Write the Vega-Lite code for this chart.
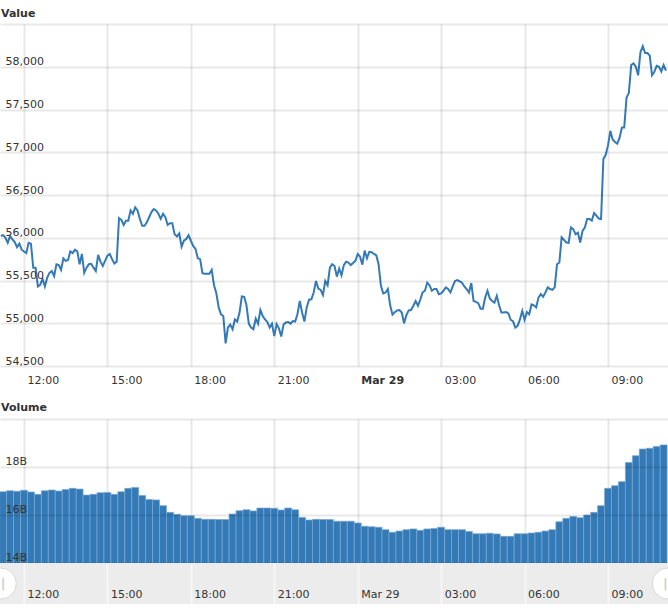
{
  "$schema": "https://vega.github.io/schema/vega-lite/v6.json",
  "background": "white",
  "padding": {"left": 0, "top": 8, "right": 0, "bottom": 0},
  "spacing": 0,
  "config": {
    "font": "DejaVu Sans",
    "view": {"stroke": null},
    "title": {"fontSize": 11, "fontWeight": "bold", "color": "#333333", "anchor": "start", "frame": "group", "offset": -6, "dx": 1},
    "axis": {"gridColor": "#000000", "gridOpacity": 0.09, "gridWidth": 2, "domain": false, "ticks": false, "labelColor": "#333333", "labelFontSize": 11, "labelFlush": false, "labelOverlap": false}
  },
  "datasets": {
    "price": [
      {"t":"2021-03-28T11:10","value":56020},{"t":"2021-03-28T11:15","value":56030},{"t":"2021-03-28T11:20","value":56000},{"t":"2021-03-28T11:25","value":55940},{"t":"2021-03-28T11:30","value":56020},{"t":"2021-03-28T11:35","value":55980},{"t":"2021-03-28T11:40","value":55950},{"t":"2021-03-28T11:45","value":55890},{"t":"2021-03-28T11:50","value":55930},{"t":"2021-03-28T11:55","value":55860},
      {"t":"2021-03-28T12:00","value":55840},{"t":"2021-03-28T12:05","value":55820},{"t":"2021-03-28T12:10","value":55940},{"t":"2021-03-28T12:15","value":55930},{"t":"2021-03-28T12:20","value":55650},{"t":"2021-03-28T12:25","value":55650},{"t":"2021-03-28T12:30","value":55430},{"t":"2021-03-28T12:35","value":55450},{"t":"2021-03-28T12:40","value":55520},{"t":"2021-03-28T12:45","value":55430},{"t":"2021-03-28T12:50","value":55530},{"t":"2021-03-28T12:55","value":55590},
      {"t":"2021-03-28T13:00","value":55610},{"t":"2021-03-28T13:05","value":55550},{"t":"2021-03-28T13:10","value":55690},{"t":"2021-03-28T13:15","value":55680},{"t":"2021-03-28T13:20","value":55625},{"t":"2021-03-28T13:25","value":55760},{"t":"2021-03-28T13:30","value":55730},{"t":"2021-03-28T13:35","value":55740},{"t":"2021-03-28T13:40","value":55840},{"t":"2021-03-28T13:45","value":55820},{"t":"2021-03-28T13:50","value":55860},{"t":"2021-03-28T13:55","value":55840},
      {"t":"2021-03-28T14:00","value":55690},{"t":"2021-03-28T14:05","value":55810},{"t":"2021-03-28T14:10","value":55590},{"t":"2021-03-28T14:15","value":55650},{"t":"2021-03-28T14:20","value":55690},{"t":"2021-03-28T14:25","value":55695},{"t":"2021-03-28T14:30","value":55650},{"t":"2021-03-28T14:35","value":55610},{"t":"2021-03-28T14:40","value":55800},{"t":"2021-03-28T14:45","value":55720},{"t":"2021-03-28T14:50","value":55670},{"t":"2021-03-28T14:55","value":55730},
      {"t":"2021-03-28T15:00","value":55790},{"t":"2021-03-28T15:05","value":55810},{"t":"2021-03-28T15:10","value":55750},{"t":"2021-03-28T15:15","value":55700},{"t":"2021-03-28T15:20","value":55720},{"t":"2021-03-28T15:25","value":56230},{"t":"2021-03-28T15:30","value":56210},{"t":"2021-03-28T15:35","value":56150},{"t":"2021-03-28T15:40","value":56200},{"t":"2021-03-28T15:45","value":56200},{"t":"2021-03-28T15:50","value":56320},{"t":"2021-03-28T15:55","value":56280},
      {"t":"2021-03-28T16:00","value":56355},{"t":"2021-03-28T16:05","value":56320},{"t":"2021-03-28T16:10","value":56220},{"t":"2021-03-28T16:15","value":56140},{"t":"2021-03-28T16:20","value":56140},{"t":"2021-03-28T16:25","value":56180},{"t":"2021-03-28T16:30","value":56240},{"t":"2021-03-28T16:35","value":56300},{"t":"2021-03-28T16:40","value":56335},{"t":"2021-03-28T16:45","value":56320},{"t":"2021-03-28T16:50","value":56280},{"t":"2021-03-28T16:55","value":56220},
      {"t":"2021-03-28T17:00","value":56280},{"t":"2021-03-28T17:05","value":56240},{"t":"2021-03-28T17:10","value":56150},{"t":"2021-03-28T17:15","value":56170},{"t":"2021-03-28T17:20","value":56170},{"t":"2021-03-28T17:25","value":56040},{"t":"2021-03-28T17:30","value":56015},{"t":"2021-03-28T17:35","value":56050},{"t":"2021-03-28T17:40","value":55895},{"t":"2021-03-28T17:45","value":55965},{"t":"2021-03-28T17:50","value":55985},{"t":"2021-03-28T17:55","value":56030},
      {"t":"2021-03-28T18:00","value":55965},{"t":"2021-03-28T18:05","value":55905},{"t":"2021-03-28T18:10","value":55870},{"t":"2021-03-28T18:15","value":55760},{"t":"2021-03-28T18:20","value":55750},{"t":"2021-03-28T18:25","value":55585},{"t":"2021-03-28T18:30","value":55580},{"t":"2021-03-28T18:35","value":55580},{"t":"2021-03-28T18:40","value":55580},{"t":"2021-03-28T18:45","value":55625},{"t":"2021-03-28T18:50","value":55445},{"t":"2021-03-28T18:55","value":55350},
      {"t":"2021-03-28T19:00","value":55185},{"t":"2021-03-28T19:05","value":55105},{"t":"2021-03-28T19:10","value":55085},{"t":"2021-03-28T19:15","value":54765},{"t":"2021-03-28T19:20","value":54950},{"t":"2021-03-28T19:25","value":54985},{"t":"2021-03-28T19:30","value":54930},{"t":"2021-03-28T19:35","value":55045},{"t":"2021-03-28T19:40","value":55020},{"t":"2021-03-28T19:45","value":55125},{"t":"2021-03-28T19:50","value":55315},{"t":"2021-03-28T19:55","value":55310},
      {"t":"2021-03-28T20:00","value":55210},{"t":"2021-03-28T20:05","value":54995},{"t":"2021-03-28T20:10","value":54950},{"t":"2021-03-28T20:15","value":54930},{"t":"2021-03-28T20:20","value":55055},{"t":"2021-03-28T20:25","value":54995},{"t":"2021-03-28T20:30","value":55155},{"t":"2021-03-28T20:35","value":55085},{"t":"2021-03-28T20:40","value":55045},{"t":"2021-03-28T20:45","value":55015},{"t":"2021-03-28T20:50","value":54950},{"t":"2021-03-28T20:55","value":54995},
      {"t":"2021-03-28T21:00","value":54850},{"t":"2021-03-28T21:05","value":54990},{"t":"2021-03-28T21:10","value":54940},{"t":"2021-03-28T21:15","value":54845},{"t":"2021-03-28T21:20","value":54985},{"t":"2021-03-28T21:25","value":55010},{"t":"2021-03-28T21:30","value":55015},{"t":"2021-03-28T21:35","value":54995},{"t":"2021-03-28T21:40","value":55025},{"t":"2021-03-28T21:45","value":55020},{"t":"2021-03-28T21:50","value":55105},{"t":"2021-03-28T21:55","value":55260},
      {"t":"2021-03-28T22:00","value":55125},{"t":"2021-03-28T22:05","value":55020},{"t":"2021-03-28T22:10","value":55185},{"t":"2021-03-28T22:15","value":55275},{"t":"2021-03-28T22:20","value":55280},{"t":"2021-03-28T22:25","value":55360},{"t":"2021-03-28T22:30","value":55495},{"t":"2021-03-28T22:35","value":55405},{"t":"2021-03-28T22:40","value":55390},{"t":"2021-03-28T22:45","value":55330},{"t":"2021-03-28T22:50","value":55495},{"t":"2021-03-28T22:55","value":55445},
      {"t":"2021-03-28T23:00","value":55650},{"t":"2021-03-28T23:05","value":55690},{"t":"2021-03-28T23:10","value":55670},{"t":"2021-03-28T23:15","value":55545},{"t":"2021-03-28T23:20","value":55640},{"t":"2021-03-28T23:25","value":55560},{"t":"2021-03-28T23:30","value":55680},{"t":"2021-03-28T23:35","value":55720},{"t":"2021-03-28T23:40","value":55710},{"t":"2021-03-28T23:45","value":55680},{"t":"2021-03-28T23:50","value":55705},{"t":"2021-03-28T23:55","value":55730},
      {"t":"2021-03-29T00:00","value":55810},{"t":"2021-03-29T00:05","value":55780},{"t":"2021-03-29T00:10","value":55685},{"t":"2021-03-29T00:15","value":55850},{"t":"2021-03-29T00:20","value":55760},{"t":"2021-03-29T00:25","value":55835},{"t":"2021-03-29T00:30","value":55830},{"t":"2021-03-29T00:35","value":55810},{"t":"2021-03-29T00:40","value":55795},{"t":"2021-03-29T00:45","value":55690},{"t":"2021-03-29T00:50","value":55440},{"t":"2021-03-29T00:55","value":55350},
      {"t":"2021-03-29T01:00","value":55360},{"t":"2021-03-29T01:05","value":55400},{"t":"2021-03-29T01:10","value":55210},{"t":"2021-03-29T01:15","value":55100},{"t":"2021-03-29T01:20","value":55130},{"t":"2021-03-29T01:25","value":55150},{"t":"2021-03-29T01:30","value":55155},{"t":"2021-03-29T01:35","value":55125},{"t":"2021-03-29T01:40","value":55000},{"t":"2021-03-29T01:45","value":55095},{"t":"2021-03-29T01:50","value":55150},{"t":"2021-03-29T01:55","value":55155},
      {"t":"2021-03-29T02:00","value":55205},{"t":"2021-03-29T02:05","value":55260},{"t":"2021-03-29T02:10","value":55205},{"t":"2021-03-29T02:15","value":55275},{"t":"2021-03-29T02:20","value":55360},{"t":"2021-03-29T02:25","value":55380},{"t":"2021-03-29T02:30","value":55475},{"t":"2021-03-29T02:35","value":55445},{"t":"2021-03-29T02:40","value":55380},{"t":"2021-03-29T02:45","value":55400},{"t":"2021-03-29T02:50","value":55400},{"t":"2021-03-29T02:55","value":55340},
      {"t":"2021-03-29T03:00","value":55350},{"t":"2021-03-29T03:05","value":55380},{"t":"2021-03-29T03:10","value":55420},{"t":"2021-03-29T03:15","value":55400},{"t":"2021-03-29T03:20","value":55360},{"t":"2021-03-29T03:25","value":55430},{"t":"2021-03-29T03:30","value":55495},{"t":"2021-03-29T03:35","value":55505},{"t":"2021-03-29T03:40","value":55490},{"t":"2021-03-29T03:45","value":55475},{"t":"2021-03-29T03:50","value":55430},{"t":"2021-03-29T03:55","value":55400},
      {"t":"2021-03-29T04:00","value":55360},{"t":"2021-03-29T04:05","value":55470},{"t":"2021-03-29T04:10","value":55260},{"t":"2021-03-29T04:15","value":55250},{"t":"2021-03-29T04:20","value":55235},{"t":"2021-03-29T04:25","value":55170},{"t":"2021-03-29T04:30","value":55170},{"t":"2021-03-29T04:35","value":55300},{"t":"2021-03-29T04:40","value":55380},{"t":"2021-03-29T04:45","value":55290},{"t":"2021-03-29T04:50","value":55260},{"t":"2021-03-29T04:55","value":55240},
      {"t":"2021-03-29T05:00","value":55320},{"t":"2021-03-29T05:05","value":55210},{"t":"2021-03-29T05:10","value":55125},{"t":"2021-03-29T05:15","value":55125},{"t":"2021-03-29T05:20","value":55130},{"t":"2021-03-29T05:25","value":55115},{"t":"2021-03-29T05:30","value":55040},{"t":"2021-03-29T05:35","value":55025},{"t":"2021-03-29T05:40","value":54950},{"t":"2021-03-29T05:45","value":54970},{"t":"2021-03-29T05:50","value":55045},{"t":"2021-03-29T05:55","value":55145},
      {"t":"2021-03-29T06:00","value":55040},{"t":"2021-03-29T06:05","value":55130},{"t":"2021-03-29T06:10","value":55105},{"t":"2021-03-29T06:15","value":55220},{"t":"2021-03-29T06:20","value":55210},{"t":"2021-03-29T06:25","value":55185},{"t":"2021-03-29T06:30","value":55300},{"t":"2021-03-29T06:35","value":55340},{"t":"2021-03-29T06:40","value":55310},{"t":"2021-03-29T06:45","value":55360},{"t":"2021-03-29T06:50","value":55420},{"t":"2021-03-29T06:55","value":55400},
      {"t":"2021-03-29T07:00","value":55390},{"t":"2021-03-29T07:05","value":55420},{"t":"2021-03-29T07:10","value":55690},{"t":"2021-03-29T07:15","value":55710},{"t":"2021-03-29T07:20","value":56005},{"t":"2021-03-29T07:25","value":55975},{"t":"2021-03-29T07:30","value":55945},{"t":"2021-03-29T07:35","value":55940},{"t":"2021-03-29T07:40","value":56120},{"t":"2021-03-29T07:45","value":56100},{"t":"2021-03-29T07:50","value":56040},{"t":"2021-03-29T07:55","value":56060},
      {"t":"2021-03-29T08:00","value":55945},{"t":"2021-03-29T08:05","value":56080},{"t":"2021-03-29T08:10","value":56120},{"t":"2021-03-29T08:15","value":56220},{"t":"2021-03-29T08:20","value":56220},{"t":"2021-03-29T08:25","value":56200},{"t":"2021-03-29T08:30","value":56290},{"t":"2021-03-29T08:35","value":56260},{"t":"2021-03-29T08:40","value":56225},{"t":"2021-03-29T08:45","value":56220},{"t":"2021-03-29T08:50","value":56920},{"t":"2021-03-29T08:55","value":56970},
      {"t":"2021-03-29T09:00","value":57080},{"t":"2021-03-29T09:05","value":57250},{"t":"2021-03-29T09:10","value":57150},{"t":"2021-03-29T09:15","value":57120},{"t":"2021-03-29T09:20","value":57100},{"t":"2021-03-29T09:25","value":57170},{"t":"2021-03-29T09:30","value":57290},{"t":"2021-03-29T09:35","value":57290},{"t":"2021-03-29T09:40","value":57640},{"t":"2021-03-29T09:45","value":57695},{"t":"2021-03-29T09:50","value":58020},{"t":"2021-03-29T09:55","value":58040},
      {"t":"2021-03-29T10:00","value":58000},{"t":"2021-03-29T10:05","value":57900},{"t":"2021-03-29T10:10","value":58170},{"t":"2021-03-29T10:15","value":58240},{"t":"2021-03-29T10:20","value":58160},{"t":"2021-03-29T10:25","value":58160},{"t":"2021-03-29T10:30","value":58130},{"t":"2021-03-29T10:35","value":57900},{"t":"2021-03-29T10:40","value":57940},{"t":"2021-03-29T10:45","value":58010},{"t":"2021-03-29T10:50","value":58000},{"t":"2021-03-29T10:55","value":57945},
      {"t":"2021-03-29T11:00","value":58020},{"t":"2021-03-29T11:05","value":57955}
    ],
    "volume": [
      {"t":"2021-03-28T11:15","v":16.97},{"t":"2021-03-28T11:30","v":17.01},{"t":"2021-03-28T11:45","v":16.99},{"t":"2021-03-28T12:00","v":17.03},{"t":"2021-03-28T12:15","v":16.96},{"t":"2021-03-28T12:30","v":16.86},{"t":"2021-03-28T12:45","v":17.01},{"t":"2021-03-28T13:00","v":17.04},{"t":"2021-03-28T13:15","v":17.0},{"t":"2021-03-28T13:30","v":17.06},{"t":"2021-03-28T13:45","v":17.11},{"t":"2021-03-28T14:00","v":17.08},
      {"t":"2021-03-28T14:15","v":16.83},{"t":"2021-03-28T14:30","v":16.86},{"t":"2021-03-28T14:45","v":16.93},{"t":"2021-03-28T15:00","v":16.94},{"t":"2021-03-28T15:15","v":16.86},{"t":"2021-03-28T15:30","v":16.97},{"t":"2021-03-28T15:45","v":17.11},{"t":"2021-03-28T16:00","v":17.15},{"t":"2021-03-28T16:15","v":16.81},{"t":"2021-03-28T16:30","v":16.65},{"t":"2021-03-28T16:45","v":16.63},{"t":"2021-03-28T17:00","v":16.39},
      {"t":"2021-03-28T17:15","v":16.11},{"t":"2021-03-28T17:30","v":16.03},{"t":"2021-03-28T17:45","v":15.97},{"t":"2021-03-28T18:00","v":15.97},{"t":"2021-03-28T18:15","v":15.86},{"t":"2021-03-28T18:30","v":15.82},{"t":"2021-03-28T18:45","v":15.82},{"t":"2021-03-28T19:00","v":15.81},{"t":"2021-03-28T19:15","v":15.81},{"t":"2021-03-28T19:30","v":16.04},{"t":"2021-03-28T19:45","v":16.18},{"t":"2021-03-28T20:00","v":16.22},
      {"t":"2021-03-28T20:15","v":16.17},{"t":"2021-03-28T20:30","v":16.29},{"t":"2021-03-28T20:45","v":16.29},{"t":"2021-03-28T21:00","v":16.28},{"t":"2021-03-28T21:15","v":16.21},{"t":"2021-03-28T21:30","v":16.29},{"t":"2021-03-28T21:45","v":16.22},{"t":"2021-03-28T22:00","v":15.9},{"t":"2021-03-28T22:15","v":15.79},{"t":"2021-03-28T22:30","v":15.82},{"t":"2021-03-28T22:45","v":15.81},{"t":"2021-03-28T23:00","v":15.81},
      {"t":"2021-03-28T23:15","v":15.74},{"t":"2021-03-28T23:30","v":15.74},{"t":"2021-03-28T23:45","v":15.74},{"t":"2021-03-29T00:00","v":15.67},{"t":"2021-03-29T00:15","v":15.53},{"t":"2021-03-29T00:30","v":15.51},{"t":"2021-03-29T00:45","v":15.49},{"t":"2021-03-29T01:00","v":15.39},{"t":"2021-03-29T01:15","v":15.28},{"t":"2021-03-29T01:30","v":15.33},{"t":"2021-03-29T01:45","v":15.39},{"t":"2021-03-29T02:00","v":15.42},
      {"t":"2021-03-29T02:15","v":15.36},{"t":"2021-03-29T02:30","v":15.42},{"t":"2021-03-29T02:45","v":15.44},{"t":"2021-03-29T03:00","v":15.49},{"t":"2021-03-29T03:15","v":15.39},{"t":"2021-03-29T03:30","v":15.39},{"t":"2021-03-29T03:45","v":15.39},{"t":"2021-03-29T04:00","v":15.31},{"t":"2021-03-29T04:15","v":15.22},{"t":"2021-03-29T04:30","v":15.22},{"t":"2021-03-29T04:45","v":15.24},{"t":"2021-03-29T05:00","v":15.21},
      {"t":"2021-03-29T05:15","v":15.11},{"t":"2021-03-29T05:30","v":15.11},{"t":"2021-03-29T05:45","v":15.22},{"t":"2021-03-29T06:00","v":15.22},{"t":"2021-03-29T06:15","v":15.25},{"t":"2021-03-29T06:30","v":15.28},{"t":"2021-03-29T06:45","v":15.33},{"t":"2021-03-29T07:00","v":15.39},{"t":"2021-03-29T07:15","v":15.72},{"t":"2021-03-29T07:30","v":15.86},{"t":"2021-03-29T07:45","v":15.94},{"t":"2021-03-29T08:00","v":15.89},
      {"t":"2021-03-29T08:15","v":16.0},{"t":"2021-03-29T08:30","v":16.11},{"t":"2021-03-29T08:45","v":16.39},{"t":"2021-03-29T09:00","v":17.11},{"t":"2021-03-29T09:15","v":17.22},{"t":"2021-03-29T09:30","v":17.39},{"t":"2021-03-29T09:45","v":18.19},{"t":"2021-03-29T10:00","v":18.47},{"t":"2021-03-29T10:15","v":18.75},{"t":"2021-03-29T10:30","v":18.78},{"t":"2021-03-29T10:45","v":18.85},{"t":"2021-03-29T11:00","v":18.92}
    ],
    "handles": [
      {"t":"2021-03-28T11:10","pos":0.5,"glyph":"||"},
      {"t":"2021-03-29T11:09","pos":0.5,"glyph":"||"}
    ]
  },
  "vconcat": [
    {
      "width": 668,
      "height": 342,
      "title": "Value",
      "data": {"name": "price"},
      "mark": {"type": "line", "color": "#337ab7", "strokeWidth": 2, "clip": true},
      "encoding": {
        "x": {
          "field": "t",
          "type": "temporal",
          "title": null,
          "scale": {"domain": [{"year": 2021, "month": 3, "date": 28, "hours": 11, "minutes": 8, "seconds": 15}, {"year": 2021, "month": 3, "date": 29, "hours": 11, "minutes": 9, "seconds": 25}]},
          "axis": {
            "values": [{"year": 2021, "month": 3, "date": 28, "hours": 12}, {"year": 2021, "month": 3, "date": 28, "hours": 15}, {"year": 2021, "month": 3, "date": 28, "hours": 18}, {"year": 2021, "month": 3, "date": 28, "hours": 21}, {"year": 2021, "month": 3, "date": 29, "hours": 0}, {"year": 2021, "month": 3, "date": 29, "hours": 3}, {"year": 2021, "month": 3, "date": 29, "hours": 6}, {"year": 2021, "month": 3, "date": 29, "hours": 9}],
            "labelExpr": "hours(datum.value) == 0 ? timeFormat(datum.value, '%b %d') : timeFormat(datum.value, '%H:%M')",
            "labelFontWeight": {"condition": {"test": "hours(datum.value) == 0", "value": "bold"}, "value": "normal"},
            "labelAlign": "left",
            "labelBaseline": "alphabetic",
            "labelPadding": 17,
            "labelOffset": 3,
            "minExtent": 36,
            "maxExtent": 36
          }
        },
        "y": {
          "field": "value",
          "type": "quantitative",
          "title": null,
          "scale": {"domain": [54500, 58500], "nice": false, "zero": false},
          "axis": {
            "values": [54500, 55000, 55500, 56000, 56500, 57000, 57500, 58000, 58500],
            "labelExpr": "datum.value >= 58500 ? '' : format(datum.value, ',')",
            "labelAlign": "left",
            "labelBaseline": "alphabetic",
            "labelPadding": -5,
            "labelOffset": -2,
            "minExtent": 0,
            "maxExtent": 0,
            "zindex": 1
          }
        }
      }
    },
    {
      "width": 668,
      "height": 144,
      "title": "Volume",
      "data": {"name": "volume"},
      "mark": {"type": "bar", "color": "#337ab7", "stroke": "#7aa8d6", "strokeWidth": 0.7, "width": 6.95, "clip": true},
      "encoding": {
        "x": {
          "field": "t",
          "type": "temporal",
          "title": null,
          "scale": {"padding": 0, "domain": [{"year": 2021, "month": 3, "date": 28, "hours": 11, "minutes": 8, "seconds": 15}, {"year": 2021, "month": 3, "date": 29, "hours": 11, "minutes": 9, "seconds": 25}]},
          "axis": {
            "values": [{"year": 2021, "month": 3, "date": 28, "hours": 12}, {"year": 2021, "month": 3, "date": 28, "hours": 15}, {"year": 2021, "month": 3, "date": 28, "hours": 18}, {"year": 2021, "month": 3, "date": 28, "hours": 21}, {"year": 2021, "month": 3, "date": 29, "hours": 0}, {"year": 2021, "month": 3, "date": 29, "hours": 3}, {"year": 2021, "month": 3, "date": 29, "hours": 6}, {"year": 2021, "month": 3, "date": 29, "hours": 9}],
            "labels": false
          }
        },
        "y": {
          "field": "v",
          "type": "quantitative",
          "title": null,
          "scale": {"domain": [14, 20], "nice": false, "zero": false},
          "axis": {
            "values": [14, 16, 18, 20],
            "labelExpr": "datum.value >= 20 ? '' : datum.value + 'B'",
            "labelAlign": "left",
            "labelBaseline": "alphabetic",
            "labelPadding": -5,
            "labelOffset": -3,
            "minExtent": 0,
            "maxExtent": 0,
            "zindex": 1
          }
        }
      }
    },
    {
      "width": 668,
      "height": 41,
      "view": {"fill": "#ececec"},
      "data": {"name": "handles"},
      "encoding": {
        "x": {
          "field": "t",
          "type": "temporal",
          "title": null,
          "scale": {"domain": [{"year": 2021, "month": 3, "date": 28, "hours": 11, "minutes": 8, "seconds": 15}, {"year": 2021, "month": 3, "date": 29, "hours": 11, "minutes": 9, "seconds": 25}]},
          "axis": {
            "orient": "top",
            "values": [{"year": 2021, "month": 3, "date": 28, "hours": 12}, {"year": 2021, "month": 3, "date": 28, "hours": 15}, {"year": 2021, "month": 3, "date": 28, "hours": 18}, {"year": 2021, "month": 3, "date": 28, "hours": 21}, {"year": 2021, "month": 3, "date": 29, "hours": 0}, {"year": 2021, "month": 3, "date": 29, "hours": 3}, {"year": 2021, "month": 3, "date": 29, "hours": 6}, {"year": 2021, "month": 3, "date": 29, "hours": 9}],
            "labelExpr": "hours(datum.value) == 0 ? timeFormat(datum.value, '%b %d') : timeFormat(datum.value, '%H:%M')",
            "labelAlign": "left",
            "labelBaseline": "alphabetic",
            "labelPadding": -34,
            "labelOffset": 3,
            "minExtent": 0,
            "maxExtent": 0,
            "gridColor": "#f6f6f6",
            "gridOpacity": 1
          }
        },
        "y": {"field": "pos", "type": "quantitative", "scale": {"domain": [0, 1]}, "axis": null}
      },
      "layer": [
        {"mark": {"type": "point", "filled": true, "fill": "white", "stroke": "#d8d8d8", "strokeWidth": 1, "opacity": 1, "size": 961, "clip": true}},
        {"mark": {"type": "text", "color": "#cccccc", "fontSize": 13, "fontWeight": "bold", "clip": true}, "encoding": {"text": {"field": "glyph"}}}
      ]
    }
  ]
}
